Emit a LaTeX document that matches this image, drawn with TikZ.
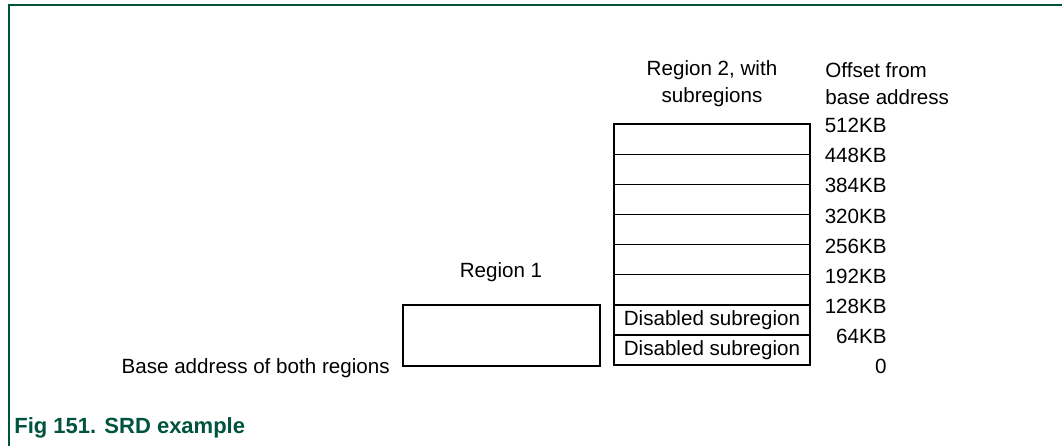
\documentclass[tikz,border=0pt]{standalone}
\usepackage{fontspec}
\setmainfont{Liberation Sans}
\definecolor{figgreen}{RGB}{0,84,62}
\tikzset{
  txt/.style={inner sep=0pt, font=\fontsize{10.3}{13.5}\selectfont},
  subrow/.style={draw, line width=0.75pt, minimum width=98pt, minimum height=15.05pt, inner sep=0pt, txt},
  offset/.style={txt, anchor=east}
}
\begin{document}
\begin{tikzpicture}[x=0.5pt, y=-0.5pt]
    \useasboundingbox (0,0) rectangle (1062,446);
    % Rahmen
    \draw[figgreen, line width=1pt] (1062,4.5) -- (8.5,4.5) -- (8.5,446);

    % Region 1
    \node[draw, line width=0.75pt, minimum width=98.5pt, minimum height=30.5pt, inner sep=0pt] (reg1) at (501.5,335.5) {};
    \node[txt] (reg1lab) at (501,272) {Region 1};
    \node[offset] (base) at (390,368) {Base address of both regions};

    % Region 2, acht Subregionen
    \foreach \i/\txt in {0/Disabled subregion, 1/Disabled subregion, 2/, 3/, 4/, 5/, 6/, 7/}
        \node[subrow] (r\i) at (712, {365-30.1*\i-15.05}) {\txt};
    \node[txt, align=center] (reg2lab) at (712,83.5) {Region 2, with\\subregions};

    % Offsets
    \node[txt, align=left, anchor=west] (offlab) at (825,83.5) {Offset from\\base address};
    \foreach \i/\kb in {0/0, 1/64KB, 2/128KB, 3/192KB, 4/256KB, 5/320KB, 6/384KB, 7/448KB, 8/512KB}
        \node[offset] (o\i) at (887, {365-30.1*\i+1.5}) {\kb};

    % Bildunterschrift
    \node[anchor=west, inner sep=0pt, text=figgreen, font=\fontsize{11}{13}\selectfont\bfseries] (cap) at (14,428) {Fig 151. SRD example};
\end{tikzpicture}
\end{document}
